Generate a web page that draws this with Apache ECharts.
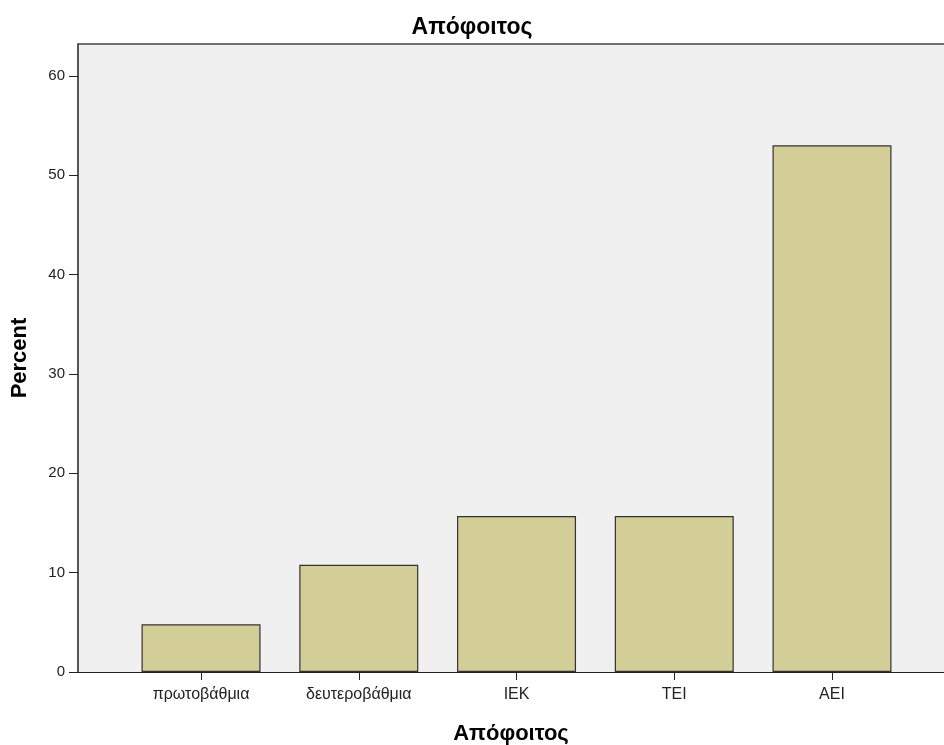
<!DOCTYPE html>
<html>
<head>
<meta charset="utf-8">
<script src="https://cdn.jsdelivr.net/npm/echarts@6/dist/echarts.min.js"></script>
<style>
html,body{margin:0;padding:0;background:#fff;}
#c{width:944px;height:745px;}
</style>
</head>
<body>
<div id="c"></div>
<script>
const categories = ['πρωτοβάθμια', 'δευτεροβάθμια', 'ΙΕΚ', 'ΤΕΙ', 'ΑΕΙ'];
const percentValues = [4.8, 10.8, 15.7, 15.7, 53.0];
const yTicks = [0, 10, 20, 30, 40, 50, 60];

const catIdx = categories.map((_, i) => i);
const font = 'Liberation Sans, Arial, sans-serif';
const chart = echarts.init(document.getElementById('c'));
chart.setOption({
  animation: false,
  backgroundColor: '#ffffff',
  title: {
    text: 'Απόφοιτος',
    left: 'center',
    top: 11,
    textStyle: { fontFamily: font, fontSize: 23, fontWeight: 'bold', color: '#000' }
  },
  grid: {
    left: 78, right: 0, top: 44, bottom: 73,
    outerBoundsMode: 'none',
    containLabel: false,
    show: true, backgroundColor: '#f0f0f0', borderWidth: 0
  },
  xAxis: [{
    type: 'value',
    min: -0.78, max: 4.71,
    splitLine: { show: false },
    axisLine: { show: true, onZero: false, lineStyle: { color: '#222', width: 1 } },
    axisTick: { show: true, customValues: catIdx, length: 8, lineStyle: { color: '#222' } },
    axisLabel: {
      customValues: catIdx,
      formatter: v => categories[Math.round(v)],
      margin: 15, fontFamily: font, fontSize: 16, color: '#222'
    },
    name: 'Απόφοιτος',
    nameLocation: 'middle',
    nameGap: 51,
    nameTextStyle: { fontFamily: font, fontSize: 22, fontWeight: 'bold', color: '#000' }
  }, {
    type: 'value', position: 'top',
    min: -0.78, max: 4.71,
    splitLine: { show: false },
    axisLine: { show: true, onZero: false, lineStyle: { color: '#444', width: 1.5 } },
    axisTick: { show: false }, axisLabel: { show: false }
  }],
  yAxis: {
    type: 'value',
    min: 0, max: 63.2,
    splitLine: { show: false },
    axisLine: { show: true, onZero: false, lineStyle: { color: '#222', width: 1.5 } },
    axisTick: { show: true, customValues: yTicks, length: 9, lineStyle: { color: '#222' } },
    axisLabel: { customValues: yTicks, margin: 13, fontFamily: font, fontSize: 15, color: '#222' },
    name: 'Percent',
    nameLocation: 'middle',
    nameGap: 47,
    nameRotate: 90,
    nameTextStyle: { fontFamily: font, fontSize: 22, fontWeight: 'bold', color: '#000' }
  },
  series: [{
    type: 'bar',
    xAxisIndex: 0,
    barWidth: 119,
    data: percentValues.map((v, i) => [i, v]),
    itemStyle: { color: '#d3ce98', borderColor: '#333', borderWidth: 1.2 }
  }]
});
</script>
</body>
</html>
